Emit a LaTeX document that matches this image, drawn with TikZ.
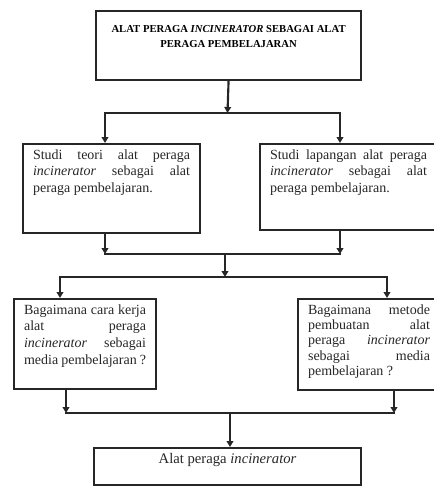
\documentclass[tikz,border=0pt]{standalone}
\usepackage{fontspec}
\setmainfont{Liberation Serif}
\usetikzlibrary{arrows.meta, positioning}
\tolerance=10000
\hbadness=10000
\hyphenpenalty=10000
\exhyphenpenalty=10000
\newcommand{\isikotak}[3]{\parbox[t][#2][t]{#1}{#3}}

\begin{document}
\begin{tikzpicture}[x=0.75pt, y=-0.75pt,
  judul/.style={rectangle, draw=black!85, line width=1.6pt, anchor=north west,
                inner xsep=6pt, inner ysep=11pt,
                font=\bfseries\fontsize{8}{11.25}\selectfont},
  kotak/.style={rectangle, draw=black!85, line width=1.6pt, anchor=north west,
                inner xsep=7.5pt, inner ysep=4pt, text=black!85,
                font=\fontsize{10.5}{12.5}\selectfont},
  panah/.style={-{Triangle[length=4.5pt, width=5pt]}, line width=1.6pt, black!85},
  garis/.style={line width=1.6pt, black!85, line cap=rect}
]
\useasboundingbox (0,0) rectangle (433,486);

\node[judul] (judul) at (95,10)
  {\isikotak{186.75pt}{29.75pt}{\centering ALAT PERAGA \textit{INCINERATOR} SEBAGAI ALAT\\
   PERAGA PEMBELAJARAN}};

\node[kotak] (teori) at (22,143)
  {\isikotak{117.75pt}{58.75pt}{Studi teori alat peraga\linebreak
   \textit{incinerator} sebagai alat\linebreak peraga pembelajaran.}};
\node[kotak] (lapangan) at (259,143)
  {\isikotak{117.75pt}{56.5pt}{Studi lapangan alat peraga\linebreak
   \textit{incinerator} sebagai alat\linebreak peraga pembelajaran.}};

\node[kotak] (carakerja) at (13,298)
  {\isikotak{91.5pt}{59.5pt}{Bagaimana cara kerja\linebreak alat peraga\linebreak
   \textit{incinerator} sebagai\linebreak media pembelajaran ?}};
\node[kotak, font=\fontsize{10.5}{11.5}\selectfont] (metode) at (297,298)
  {\isikotak{91.5pt}{60.25pt}{Bagaimana metode\linebreak pembuatan alat\linebreak
   peraga \textit{incinerator}\linebreak sebagai media\linebreak pembelajaran ?}};

\node[kotak, font=\fontsize{11}{13}\selectfont] (hasil) at (93,447)
  {\isikotak{185.25pt}{19.75pt}{\centering Alat peraga \textit{incinerator}}};

% titik cabang dan gabung
\coordinate (cabang1) at (227.5,113);
\coordinate (cabang1kiri) at (105,113);
\coordinate (cabang1kanan) at (340,113);
\coordinate (gabung1) at (225,254);
\coordinate (gabung1kiri) at (105,254);
\coordinate (gabung1kanan) at (340,254);
\coordinate (cabang2) at (225,277);
\coordinate (cabang2kiri) at (60,277);
\coordinate (cabang2kanan) at (387,277);
\coordinate (gabung2) at (230,413);
\coordinate (gabung2kiri) at (66,413);
\coordinate (gabung2kanan) at (394,413);

\draw[panah] (judul.south) -- (cabang1);
\draw[garis] (cabang1kiri) -- (cabang1kanan);
\draw[panah] (cabang1kiri) -- (teori.north -| cabang1kiri);
\draw[panah] (cabang1kanan) -- (lapangan.north -| cabang1kanan);

\draw[panah] (teori.south -| gabung1kiri) -- (gabung1kiri);
\draw[panah] (lapangan.south -| gabung1kanan) -- (gabung1kanan);
\draw[garis] (gabung1kiri) -- (gabung1kanan);
\draw[panah] (gabung1) -- (cabang2);

\draw[garis] (cabang2kiri) -- (cabang2kanan);
\draw[panah] (cabang2kiri) -- (carakerja.north -| cabang2kiri);
\draw[panah] (cabang2kanan) -- (metode.north -| cabang2kanan);

\draw[panah] (carakerja.south -| gabung2kiri) -- (gabung2kiri);
\draw[panah] (metode.south -| gabung2kanan) -- (gabung2kanan);
\draw[garis] (gabung2kiri) -- (gabung2kanan);
\draw[panah] (gabung2) -- (hasil.north -| gabung2);

\end{tikzpicture}
\end{document}
